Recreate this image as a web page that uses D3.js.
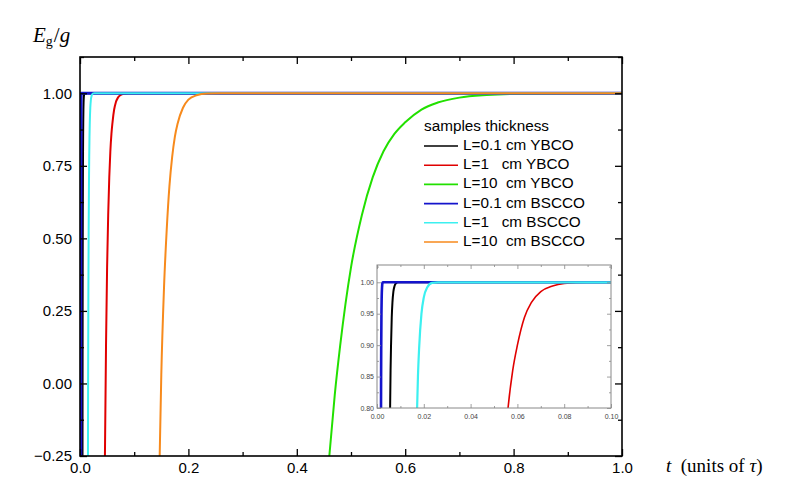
<!DOCTYPE html>
<html lang="en">
<head>
    <meta charset="UTF-8">
    <title>Eg/g vs t for YBCO and BSCCO samples</title>
    <script src="https://d3js.org/d3.v7.min.js"></script>
    <style>
        body { margin: 0; background: #fff; }
    </style>
</head>
<body>
    <svg width="788" height="503"></svg>

    <script>
        // Curves: [t, Eg/g]
        const ybco01 = [[0.0046, -0.25], [0.0048, 0.13], [0.0050, 0.40], [0.0052, 0.58], [0.0054, 0.71],
            [0.0056, 0.80], [0.0058, 0.86], [0.0060, 0.90], [0.0063, 0.944], [0.0066, 0.968],
            [0.0070, 0.985], [0.0075, 0.994], [0.0080, 0.998], [0.0090, 1.0], [1.0, 1.0]];
        const ybco1 = [[0.046, -0.25], [0.048, 0.13], [0.050, 0.40], [0.052, 0.58], [0.054, 0.71],
            [0.056, 0.80], [0.058, 0.86], [0.060, 0.90], [0.063, 0.944], [0.066, 0.968],
            [0.070, 0.985], [0.075, 0.994], [0.080, 0.998], [0.090, 1.0], [1.0, 1.0]];
        const ybco10 = [[0.46, -0.25], [0.47, -0.04], [0.48, 0.13], [0.50, 0.40], [0.52, 0.58],
            [0.54, 0.71], [0.56, 0.80], [0.58, 0.86], [0.60, 0.90], [0.63, 0.944],
            [0.66, 0.968], [0.70, 0.985], [0.75, 0.994], [0.80, 0.998], [0.90, 1.0], [1.0, 1.0]];
        const bscco01 = [[0.00147, -0.25], [0.00150, 0.03], [0.00155, 0.33], [0.00160, 0.53],
            [0.00165, 0.68], [0.00170, 0.78], [0.00175, 0.85], [0.00180, 0.895], [0.00190, 0.95],
            [0.00200, 0.976], [0.00215, 0.992], [0.00235, 0.999], [0.0026, 1.0], [1.0, 1.0]];
        const bscco1 = [[0.0147, -0.25], [0.0150, 0.03], [0.0155, 0.33], [0.0160, 0.53],
            [0.0165, 0.68], [0.0170, 0.78], [0.0175, 0.85], [0.0180, 0.895], [0.0190, 0.95],
            [0.0200, 0.976], [0.0215, 0.992], [0.0235, 0.999], [0.026, 1.0], [1.0, 1.0]];
        const bscco10 = [[0.147, -0.25], [0.150, 0.03], [0.155, 0.33], [0.160, 0.53],
            [0.165, 0.68], [0.170, 0.78], [0.175, 0.85], [0.180, 0.895], [0.190, 0.95],
            [0.200, 0.978], [0.215, 0.993], [0.235, 0.999], [0.26, 1.0], [1.0, 1.0]];

        const legendTitle = "samples thickness";
        const legendLabels = ["L=0.1 cm YBCO", "L=1   cm YBCO", "L=10  cm YBCO",
            "L=0.1 cm BSCCO", "L=1   cm BSCCO", "L=10  cm BSCCO"];
        const allSeries = [ybco01, ybco1, ybco10, bscco01, bscco1, bscco10];

        const xTicks = [0, 0.2, 0.4, 0.6, 0.8, 1.0];
        const xMinorTicks = [0.1, 0.3, 0.5, 0.7, 0.9];
        const yTicks = [-0.25, 0, 0.25, 0.5, 0.75, 1.0];
        const yMinorTicks = [-0.125, 0.125, 0.375, 0.625, 0.875, 1.125];
        const insetXTicks = [0, 0.02, 0.04, 0.06, 0.08, 0.10];
        const insetXMinorTicks = [0.01, 0.03, 0.05, 0.07, 0.09];
        const insetYTicks = [0.80, 0.85, 0.90, 0.95, 1.00];
        const insetYMinorTicks = [0.825, 0.875, 0.925, 0.975, 1.025];

        // styles
        const colors = ["#000000", "#e00000", "#22e000", "#1414cc", "#3cf0f0", "#f78a1c"];
        const widths = [2, 2, 2, 3, 2, 2];
        const insetWidths = [2, 1.6, 1.6, 2.6, 2.2, 1.6];

        const width = 788;
        const height = 503;
        const margin = {top: 57, right: 166, bottom: 47, left: 80};
        const sansFont = "'Liberation Sans', Arial, sans-serif";
        const serifFont = "'Liberation Serif', 'DejaVu Serif', serif";

        const svg = d3.select("svg");

        // main scales
        const x = d3.scaleLinear()
            .domain([0, 1])
            .range([margin.left, width - margin.right]);
        const y = d3.scaleLinear()
            .domain([-0.25, 1.125])
            .range([height - margin.bottom, margin.top]);

        svg.append("clipPath").attr("id", "clipMain")
            .append("rect")
            .attr("x", x(0)).attr("y", y(1.125))
            .attr("width", x(1) - x(0)).attr("height", y(-0.25) - y(1.125));

        const line = d3.line()
            .x(d => x(d[0]))
            .y(d => y(d[1]))
            .curve(d3.curveMonotoneX);

        svg.append("g").attr("clip-path", "url(#clipMain)")
            .selectAll("path")
            .data(allSeries)
            .enter()
            .append("path")
            .attr("d", line)
            .attr("fill", "none")
            .attr("stroke", (d, i) => colors[i])
            .attr("stroke-width", (d, i) => widths[i]);

        // axes with inward ticks on all four sides
        function styleAxis(g, fontSize) {
            g.select(".domain").remove();
            g.selectAll("text")
                .attr("font-family", sansFont)
                .attr("font-size", fontSize)
                .attr("fill", "#000");
        }

        svg.append("g")
            .attr("transform", `translate(0,${y(-0.25)})`)
            .call(d3.axisBottom(x).tickValues(xTicks).tickSizeInner(-7).tickPadding(6)
                .tickFormat(d3.format(".1f")))
            .call(g => styleAxis(g, "15px"));
        svg.append("g")
            .attr("transform", `translate(0,${y(-0.25)})`)
            .call(d3.axisBottom(x).tickValues(xMinorTicks).tickSizeInner(-4).tickFormat(""))
            .call(g => styleAxis(g, "0px"));
        svg.append("g")
            .attr("transform", `translate(0,${y(1.125)})`)
            .call(d3.axisTop(x).tickValues(xTicks).tickSizeInner(-7).tickFormat(""))
            .call(g => styleAxis(g, "0px"));
        svg.append("g")
            .attr("transform", `translate(0,${y(1.125)})`)
            .call(d3.axisTop(x).tickValues(xMinorTicks).tickSizeInner(-4).tickFormat(""))
            .call(g => styleAxis(g, "0px"));

        svg.append("g")
            .attr("transform", `translate(${x(0)},0)`)
            .call(d3.axisLeft(y).tickValues(yTicks).tickSizeInner(-7).tickPadding(8)
                .tickFormat(d3.format(".2f")))
            .call(g => styleAxis(g, "15px"));
        svg.append("g")
            .attr("transform", `translate(${x(0)},0)`)
            .call(d3.axisLeft(y).tickValues(yMinorTicks).tickSizeInner(-4).tickFormat(""))
            .call(g => styleAxis(g, "0px"));
        svg.append("g")
            .attr("transform", `translate(${x(1)},0)`)
            .call(d3.axisRight(y).tickValues(yTicks).tickSizeInner(-7).tickFormat(""))
            .call(g => styleAxis(g, "0px"));
        svg.append("g")
            .attr("transform", `translate(${x(1)},0)`)
            .call(d3.axisRight(y).tickValues(yMinorTicks).tickSizeInner(-4).tickFormat(""))
            .call(g => styleAxis(g, "0px"));

        svg.selectAll(".tick line").attr("stroke", "#000").attr("stroke-width", 1.3);

        // frame
        svg.append("rect")
            .attr("x", x(0)).attr("y", y(1.125))
            .attr("width", x(1) - x(0)).attr("height", y(-0.25) - y(1.125))
            .attr("fill", "none")
            .attr("stroke", "#000")
            .attr("stroke-width", 1.6);

        // axis titles
        const yTitle = svg.append("text")
            .attr("x", 33).attr("y", 42)
            .attr("font-family", serifFont)
            .attr("font-size", "21px");
        yTitle.append("tspan").attr("font-style", "italic").text("E");
        yTitle.append("tspan").attr("font-size", "14px").attr("dy", 4).text("g");
        yTitle.append("tspan").attr("dy", -4).attr("dx", 1).text("/");
        yTitle.append("tspan").attr("font-style", "italic").text("g");

        const xTitle = svg.append("text")
            .attr("x", 666).attr("y", 472)
            .attr("font-family", serifFont)
            .attr("font-size", "19px")
            .style("white-space", "pre");
        xTitle.append("tspan").attr("font-style", "italic").text("t");
        xTitle.append("tspan").text("  (units of ");
        xTitle.append("tspan").attr("font-style", "italic").text("τ");
        xTitle.append("tspan").text(")");

        // legend
        svg.append("text")
            .attr("x", 424).attr("y", 127)
            .attr("dominant-baseline", "middle")
            .attr("font-family", sansFont)
            .attr("font-size", "15.3px")
            .text(legendTitle);

        const legend = svg.append("g")
            .selectAll("g")
            .data(legendLabels)
            .enter()
            .append("g")
            .attr("transform", (d, i) => `translate(424,${146 + i * 19.2})`);
        legend.append("line")
            .attr("x1", 0).attr("x2", 34)
            .attr("stroke", (d, i) => colors[i])
            .attr("stroke-width", 1.6);
        legend.append("text")
            .attr("x", 39)
            .attr("dominant-baseline", "middle")
            .attr("font-family", sansFont)
            .attr("font-size", "15.3px")
            .style("white-space", "pre")
            .text(d => d);

        // inset
        const ix = d3.scaleLinear()
            .domain([0, 0.1])
            .range([377, 611]);
        const iy = d3.scaleLinear()
            .domain([0.8, 1.0275])
            .range([408, 265]);

        svg.append("rect")
            .attr("x", ix(0)).attr("y", iy(1.0275))
            .attr("width", ix(0.1) - ix(0)).attr("height", iy(0.8) - iy(1.0275))
            .attr("fill", "#fff");

        svg.append("clipPath").attr("id", "clipInset")
            .append("rect")
            .attr("x", ix(0)).attr("y", iy(1.0275))
            .attr("width", ix(0.1) - ix(0)).attr("height", iy(0.8) - iy(1.0275));

        const insetLine = d3.line()
            .x(d => ix(d[0]))
            .y(d => iy(d[1]))
            .curve(d3.curveMonotoneX);

        svg.append("g").attr("clip-path", "url(#clipInset)")
            .selectAll("path")
            .data(allSeries)
            .enter()
            .append("path")
            .attr("d", insetLine)
            .attr("fill", "none")
            .attr("stroke", (d, i) => colors[i])
            .attr("stroke-width", (d, i) => insetWidths[i]);

        const insetAxes = svg.append("g");
        insetAxes.append("g")
            .attr("transform", `translate(0,${iy(0.8)})`)
            .call(d3.axisBottom(ix).tickValues(insetXTicks).tickSizeInner(-4).tickPadding(6)
                .tickFormat(d3.format(".2f")));
        insetAxes.append("g")
            .attr("transform", `translate(0,${iy(0.8)})`)
            .call(d3.axisBottom(ix).tickValues(insetXMinorTicks).tickSizeInner(-2).tickFormat(""));
        insetAxes.append("g")
            .attr("transform", `translate(0,${iy(1.0275)})`)
            .call(d3.axisTop(ix).tickValues(insetXTicks).tickSizeInner(-4).tickFormat(""));
        insetAxes.append("g")
            .attr("transform", `translate(0,${iy(1.0275)})`)
            .call(d3.axisTop(ix).tickValues(insetXMinorTicks).tickSizeInner(-2).tickFormat(""));
        insetAxes.append("g")
            .attr("transform", `translate(${ix(0)},0)`)
            .call(d3.axisLeft(iy).tickValues(insetYTicks).tickSizeInner(-4).tickPadding(3)
                .tickFormat(d3.format(".2f")));
        insetAxes.append("g")
            .attr("transform", `translate(${ix(0)},0)`)
            .call(d3.axisLeft(iy).tickValues(insetYMinorTicks).tickSizeInner(-2).tickFormat(""));
        insetAxes.append("g")
            .attr("transform", `translate(${ix(0.1)},0)`)
            .call(d3.axisRight(iy).tickValues(insetYTicks).tickSizeInner(-4).tickFormat(""));
        insetAxes.append("g")
            .attr("transform", `translate(${ix(0.1)},0)`)
            .call(d3.axisRight(iy).tickValues(insetYMinorTicks).tickSizeInner(-2).tickFormat(""));

        insetAxes.selectAll(".domain").remove();
        insetAxes.selectAll(".tick line").attr("stroke", "#888").attr("stroke-width", 0.8);
        insetAxes.selectAll("text")
            .attr("font-family", sansFont)
            .attr("font-size", "7px")
            .attr("fill", "#444");

        svg.append("rect")
            .attr("x", ix(0)).attr("y", iy(1.0275))
            .attr("width", ix(0.1) - ix(0)).attr("height", iy(0.8) - iy(1.0275))
            .attr("fill", "none")
            .attr("stroke", "#888")
            .attr("stroke-width", 1);
    </script>
</body>
</html>
